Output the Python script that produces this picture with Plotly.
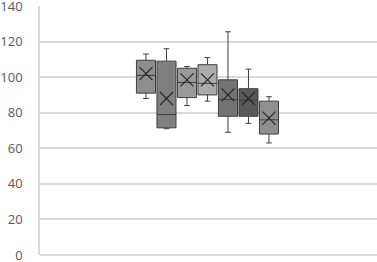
import plotly.graph_objects as go

series = ["Series 1", "Series 2", "Series 3", "Series 4", "Series 5", "Series 6", "Series 7"]
positions = [1, 2, 3, 4, 5, 6, 7]
lower = [88, 71, 84, 86.5, 69, 74, 63]
q1 = [91, 71.5, 88.5, 90, 78, 78, 68]
median = [101, 79, 97, 96.5, 87.5, 87, 76]
q3 = [109.5, 109, 105, 107, 98.5, 93.5, 86.5]
upper = [113, 116, 106, 111, 125.5, 104.5, 89]
mean = [102, 88, 98.5, 98.5, 90, 88, 77]
fills = ["#8e8e8e", "#808080", "#9a9a9a", "#ababab", "#737373", "#595959", "#8f8f8f"]
y_ticks = [0, 20, 40, 60, 80, 100, 120, 140]

fig = go.Figure()
for i, name in enumerate(series):
    fig.add_trace(go.Box(
        x=[positions[i]], q1=[q1[i]], median=[median[i]], q3=[q3[i]],
        lowerfence=[lower[i]], upperfence=[upper[i]],
        name=name, width=0.93, whiskerwidth=0.3,
        fillcolor=fills[i], line=dict(color="#3f3f3f", width=1),
        boxpoints=False, showlegend=False, hoverinfo="skip",
    ))
    fig.add_trace(go.Scatter(
        x=[positions[i]], y=[mean[i]], mode="markers",
        marker=dict(symbol="x-thin-open", size=13, color="#262626",
                    line=dict(color="#262626", width=1.2)),
        showlegend=False, hoverinfo="skip",
    ))

fig.update_layout(
    width=377, height=262,
    margin=dict(l=40, r=0, t=6, b=7, autoexpand=False),
    paper_bgcolor="white", plot_bgcolor="white",
    font=dict(family="Open Sans, Liberation Sans, sans-serif", size=13, color="#595959"),
    xaxis=dict(range=[-4.17, 12.27], showticklabels=False, showgrid=False, zeroline=False,
               showline=False),
    yaxis=dict(range=[0, 140], tickvals=y_ticks, showgrid=True, gridcolor="#d9d9d9",
               gridwidth=1.5, zeroline=True, zerolinecolor="#d9d9d9", zerolinewidth=1.5,
               showline=True, linecolor="#d9d9d9", linewidth=1.5,
               ticks="", ticklabelstandoff=13, automargin=False, ticklabeloverflow="allow"),
)
fig.write_html("out.html", config={"displayModeBar": False},
               post_script="document.body.style.margin='0';")
